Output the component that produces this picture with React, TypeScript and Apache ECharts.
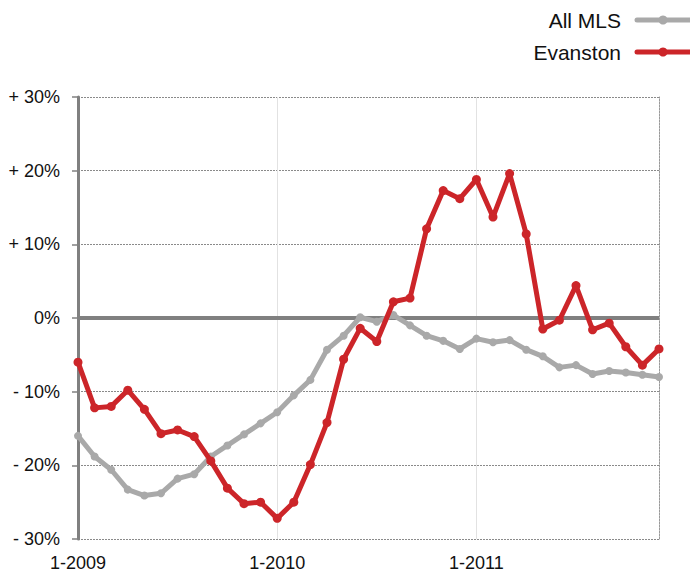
import React, { useEffect, useRef } from "react";
import * as echarts from "echarts";

const years = [2009, 2010, 2011];
const months = [1, 2, 3, 4, 5, 6, 7, 8, 9, 10, 11, 12];
const categories: string[] = [];
years.forEach((y) => months.forEach((m) => categories.push(`${m}-${y}`)));

const allMls = [
  -16.0, -18.8, -20.6, -23.3, -24.1, -23.8, -21.8, -21.2, -18.8, -17.3, -15.8, -14.3,
  -12.8, -10.5, -8.4, -4.3, -2.4, 0.1, -0.5, 0.4, -1.0, -2.4, -3.1, -4.2,
  -2.8, -3.3, -3.0, -4.3, -5.2, -6.7, -6.4, -7.6, -7.2, -7.4, -7.7, -8.0,
];

const evanston = [
  -6.0, -12.2, -12.0, -9.8, -12.4, -15.7, -15.2, -16.1, -19.4, -23.1, -25.2, -25.0,
  -27.2, -25.0, -19.9, -14.2, -5.6, -1.4, -3.2, 2.2, 2.7, 12.1, 17.3, 16.2,
  18.8, 13.7, 19.6, 11.4, -1.5, -0.3, 4.4, -1.6, -0.7, -3.9, -6.4, -4.2,
];

const seriesNames = ["All MLS", "Evanston"];
const seriesColors = ["#a9a9a9", "#cc2529"];

const FONT = "'Liberation Sans', Arial, sans-serif";

export default function App() {
  const ref = useRef<HTMLDivElement>(null);
  useEffect(() => {
    if (!ref.current) return;
    const chart = echarts.init(ref.current, undefined, { renderer: "svg" });
    const legendYs = [20, 52];
    const legendGraphics: any[] = [];
    seriesNames.forEach((name, i) => {
      legendGraphics.push({
        type: "line",
        shape: { x1: 637, y1: legendYs[i], x2: 700, y2: legendYs[i] },
        style: { stroke: seriesColors[i], lineWidth: 5, lineCap: "round" },
      });
      legendGraphics.push({
        type: "circle",
        shape: { cx: 663, cy: legendYs[i], r: 4.5 },
        style: { fill: seriesColors[i] },
      });
      legendGraphics.push({
        type: "text",
        x: 621,
        y: legendYs[i],
        style: {
          text: name,
          fill: "#111",
          font: `21px ${FONT}`,
          textAlign: "right",
          textVerticalAlign: "middle",
        },
      });
    });

    chart.setOption({
      animation: false,
      textStyle: { fontFamily: FONT },
      grid: { left: 78, right: 31, top: 97, bottom: 33, containLabel: false },
      graphic: legendGraphics,
      xAxis: {
        type: "category",
        data: categories,
        boundaryGap: false,
        axisLine: { show: false },
        axisTick: { show: false },
        axisLabel: {
          interval: 11,
          margin: 15,
          color: "#111",
          fontSize: 18,
          fontFamily: FONT,
        },
        splitLine: {
          show: true,
          interval: 11,
          lineStyle: { color: "#e2e2e2", width: 1, type: "solid" },
        },
      },
      yAxis: [
        {
          type: "value",
          min: -30,
          max: 30,
          interval: 10,
          axisLine: { show: true, lineStyle: { color: "#808080", width: 3 } },
          axisTick: { show: true, length: 6, lineStyle: { color: "#808080", width: 1.5 } },
          axisLabel: {
            margin: 18,
            color: "#111",
            fontSize: 18,
            fontFamily: FONT,
            formatter: (v: number) =>
              v > 0 ? `+ ${v}%` : v < 0 ? `- ${Math.abs(v)}%` : "0%",
          },
          splitLine: {
            show: true,
            lineStyle: { color: "#8a8a8a", width: 1, type: [2, 1] },
          },
        },
        {
          type: "value",
          position: "right",
          min: -30,
          max: 30,
          interval: 10,
          axisLine: { show: true, lineStyle: { color: "#9a9a9a", width: 1, type: [2, 1] } },
          axisTick: { show: false },
          axisLabel: { show: false },
          splitLine: { show: false },
        },
      ],
      series: [
        {
          name: seriesNames[0],
          type: "line",
          data: allMls,
          symbol: "circle",
          symbolSize: 8,
          lineStyle: { color: seriesColors[0], width: 5 },
          itemStyle: { color: seriesColors[0] },
          z: 3,
          markLine: {
            silent: true,
            symbol: "none",
            label: { show: false },
            lineStyle: { color: "#808080", width: 4, type: "solid" },
            data: [{ yAxis: 0 }],
            z: 2,
          },
        },
        {
          name: seriesNames[1],
          type: "line",
          data: evanston,
          symbol: "circle",
          symbolSize: 9,
          lineStyle: { color: seriesColors[1], width: 5 },
          itemStyle: { color: seriesColors[1] },
          z: 4,
        },
      ],
    });
    return () => chart.dispose();
  }, []);
  return (
    <div
      ref={ref}
      style={{ position: "fixed", left: 0, top: 0, width: 690, height: 572, background: "#fff" }}
    />
  );
}
